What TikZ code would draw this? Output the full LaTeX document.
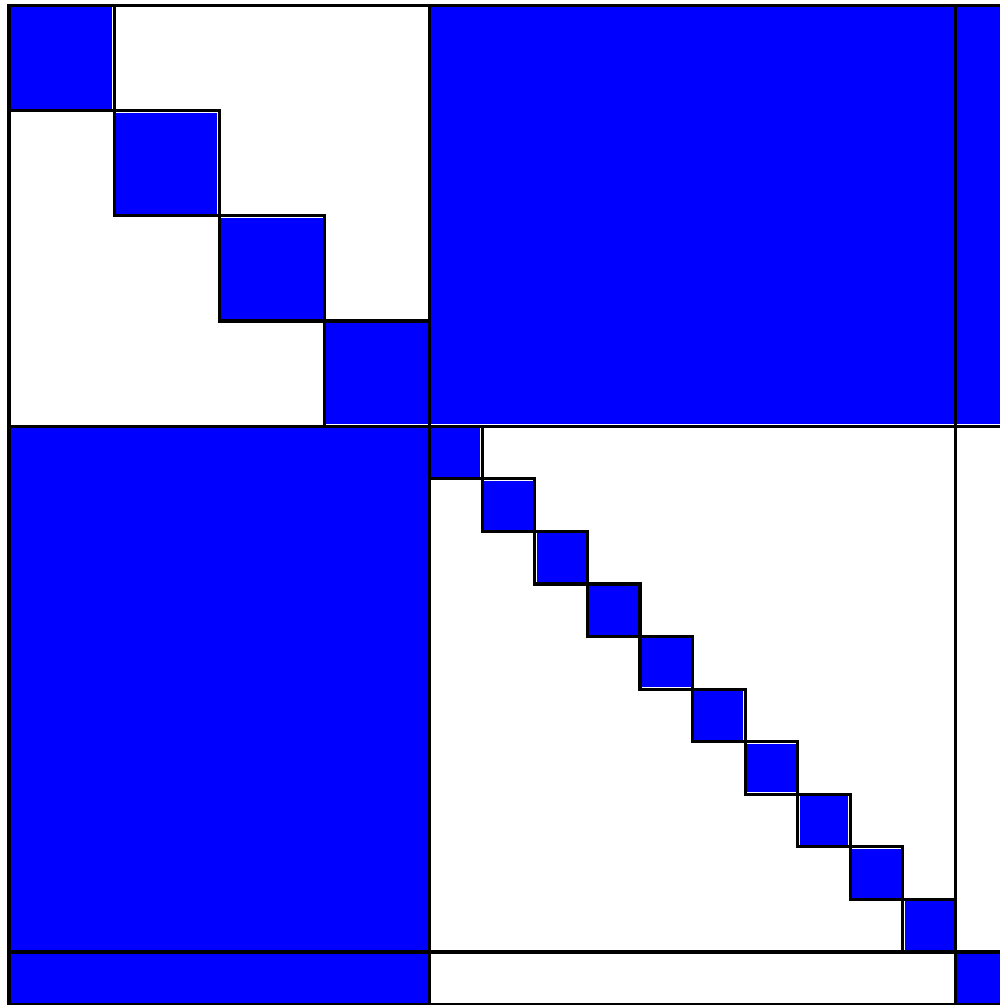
\documentclass[tikz,border=0pt]{standalone}
\usetikzlibrary{calc}
\definecolor{matblue}{HTML}{0000FF}

% blue block, slightly inset from its black frame
\newcommand{\blueblock}[4]{%
  \fill[matblue] ($(#1,#2)+(0.035,0.035)$) rectangle ($(#3,#4)-(0.035,0.035)$);}

\begin{document}
\begin{tikzpicture}[x=1cm, y=-1cm, line width=1.7pt]
  \useasboundingbox (-0.171,-0.105) rectangle (18.847,19.008);
  \clip (-0.171,-0.105) rectangle (18.847,19.008);

  %%% Fills
  % first diagonal block: 4 squares of size 2
  \foreach \i in {0,...,3}
    \blueblock{2*\i}{2*\i}{2*\i+2}{2*\i+2};
  % second diagonal block: 10 squares of size 1
  \foreach \i in {0,...,9}
    \blueblock{8+\i}{8+\i}{9+\i}{9+\i};
  % dense off-diagonal blocks
  \blueblock{8}{0}{18}{8}
  \blueblock{18}{0}{19}{8}
  \blueblock{0}{8}{8}{18}
  \blueblock{0}{18}{8}{19}
  \blueblock{18}{18}{19}{19}

  %%% Lines
  % outer frame and block boundaries
  \draw (0,0) rectangle (19,19);
  \draw (8,0) -- (8,19);
  \draw (18,0) -- (18,19);
  \draw (0,8) -- (19,8);
  \draw (0,18) -- (19,18);
  % staircase outlines
  \foreach \i in {0,...,3}
    \draw (2*\i,2*\i) rectangle (2*\i+2,2*\i+2);
  \foreach \i in {0,...,9}
    \draw (8+\i,8+\i) rectangle (9+\i,9+\i);
\end{tikzpicture}
\end{document}
